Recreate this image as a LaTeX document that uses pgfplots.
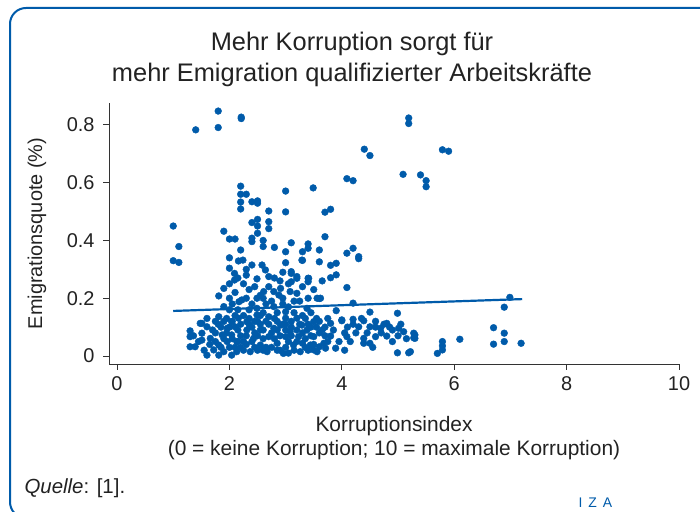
\documentclass[border=0pt]{standalone}
\usepackage{fontspec}
\setmainfont{Liberation Sans}
\usepackage{pgfplots}
\usepackage{pgfplotstable}
\pgfplotsset{compat=1.18}
\definecolor{izablue}{HTML}{005BAA}
\definecolor{axgray}{HTML}{333333}
\definecolor{txt}{HTML}{222222}

\pgfplotstableread{
x y
1.40 0.783
1.80 0.791
1.80 0.848
2.21 0.827
2.21 0.822
5.19 0.824
5.19 0.805
4.40 0.716
4.50 0.694
5.79 0.714
5.90 0.709
4.09 0.614
4.20 0.607
5.09 0.629
5.40 0.627
5.50 0.607
5.50 0.586
3.00 0.571
3.49 0.582
2.20 0.588
2.20 0.560
2.30 0.560
2.20 0.533
2.20 0.509
2.40 0.534
2.50 0.537
2.50 0.529
2.70 0.502
3.00 0.499
3.70 0.498
3.80 0.508
1.00 0.450
1.90 0.432
2.00 0.405
2.10 0.405
2.40 0.462
2.50 0.473
2.50 0.450
2.50 0.425
2.70 0.465
2.70 0.441
2.40 0.408
2.40 0.396
2.60 0.400
2.60 0.379
2.80 0.376
3.10 0.392
3.00 0.361
2.20 0.367
3.30 0.361
3.40 0.388
3.40 0.373
3.60 0.367
3.70 0.413
4.09 0.356
4.20 0.373
4.30 0.344
4.30 0.337
3.00 0.323
3.30 0.331
3.60 0.326
3.80 0.314
3.90 0.321
3.10 0.286
3.20 0.275
3.40 0.269
3.10 0.257
3.40 0.257
3.80 0.271
3.90 0.281
4.09 0.237
3.60 0.199
4.20 0.183
4.50 0.152
4.99 0.148
3.90 0.157
1.10 0.379
1.00 0.330
1.10 0.324
2.00 0.340
2.16 0.329
2.00 0.304
2.09 0.286
2.09 0.263
1.90 0.234
1.81 0.208
1.90 0.171
2.17 0.188
1.81 0.136
2.04 0.119
1.51 0.113
1.60 0.101
1.30 0.087
1.36 0.070
1.51 0.079
1.51 0.055
1.66 0.061
1.30 0.032
1.39 0.032
1.60 0.003
1.81 0.003
1.81 0.038
1.87 0.073
1.96 0.050
1.96 0.096
2.04 0.073
2.13 0.050
2.13 0.015
2.04 0.003
1.90 0.015
1.72 0.021
2.10 0.101
2.16 0.131
1.48 0.113
1.30 0.067
2.24 0.332
2.40 0.315
2.58 0.315
2.64 0.298
2.30 0.280
2.49 0.267
2.70 0.275
3.29 0.332
3.10 0.292
3.20 0.269
3.41 0.269
2.61 0.223
2.79 0.223
2.91 0.234
2.88 0.211
3.08 0.223
3.20 0.217
2.22 0.194
2.49 0.200
3.56 0.200
2.49 0.165
3.00 0.153
2.79 0.171
3.38 0.165
2.49 0.142
2.70 0.136
3.00 0.131
3.20 0.131
2.31 0.119
2.91 0.107
3.29 0.107
3.50 0.119
2.31 0.090
2.55 0.090
2.79 0.096
3.08 0.084
3.38 0.090
2.43 0.061
2.70 0.067
3.00 0.067
3.23 0.067
3.50 0.067
2.25 0.050
2.55 0.038
2.85 0.044
3.14 0.038
3.44 0.038
2.37 0.015
2.67 0.015
2.96 0.009
3.26 0.015
3.56 0.015
3.62 0.200
4.00 0.125
4.20 0.127
4.39 0.122
4.80 0.113
3.80 0.113
4.30 0.101
4.50 0.101
4.69 0.096
4.90 0.090
5.01 0.096
5.10 0.084
5.30 0.073
5.30 0.061
3.80 0.069
4.09 0.067
4.39 0.061
4.60 0.067
4.80 0.069
4.39 0.044
4.90 0.050
4.50 0.044
3.68 0.044
3.89 0.027
3.71 0.027
4.99 0.011
5.19 0.011
5.28 0.079
5.28 0.063
5.70 0.009
5.79 0.021
5.79 0.050
5.79 0.035
6.10 0.058
5.22 0.015
6.99 0.203
6.89 0.169
6.70 0.098
6.89 0.079
6.89 0.050
6.70 0.041
7.19 0.044
4.00 0.122
3.60 0.032
3.50 0.021
3.30 0.044
1.70 0.090
1.75 0.120
1.85 0.100
1.95 0.130
2.00 0.160
2.05 0.180
2.15 0.160
2.25 0.140
2.35 0.160
2.40 0.180
2.45 0.120
2.55 0.110
2.60 0.150
2.65 0.180
2.75 0.190
2.85 0.150
2.95 0.180
3.05 0.170
3.15 0.150
3.25 0.190
3.35 0.130
3.45 0.150
3.55 0.100
3.60 0.080
3.70 0.100
2.20 0.070
2.30 0.040
2.45 0.080
2.60 0.060
2.75 0.080
2.90 0.070
3.05 0.050
3.20 0.090
3.35 0.060
3.45 0.100
2.15 0.090
2.35 0.110
2.65 0.120
2.85 0.120
3.10 0.120
1.75 0.050
1.85 0.030
2.00 0.030
2.10 0.030
2.25 0.020
2.50 0.020
2.75 0.030
3.00 0.030
3.15 0.020
3.40 0.020
2.55 0.210
2.70 0.240
2.90 0.260
3.05 0.250
2.35 0.230
2.25 0.250
2.45 0.240
3.30 0.240
3.50 0.230
3.65 0.260
1.60 0.130
1.65 0.040
1.45 0.050
1.55 0.020
1.90 0.060
2.05 0.120
3.60 0.120
3.75 0.130
3.70 0.070
3.85 0.090
4.10 0.100
4.25 0.080
4.15 0.050
4.45 0.080
4.60 0.120
4.70 0.080
4.85 0.100
5.00 0.070
5.15 0.060
4.55 0.030
3.95 0.050
4.05 0.020
1.75 0.080
1.80 0.110
1.90 0.120
1.95 0.080
2.00 0.100
2.05 0.060
2.10 0.140
2.20 0.110
2.20 0.030
2.30 0.070
2.35 0.130
2.40 0.050
2.40 0.100
2.50 0.070
2.50 0.120
2.55 0.140
2.60 0.090
2.65 0.030
2.70 0.110
2.80 0.060
2.80 0.130
2.85 0.090
2.90 0.020
2.95 0.110
3.00 0.090
3.00 0.110
3.10 0.070
3.10 0.100
3.20 0.050
3.25 0.110
3.30 0.080
3.30 0.140
3.40 0.110
3.45 0.070
3.50 0.040
3.55 0.130
3.65 0.090
3.75 0.050
2.45 0.030
2.60 0.020
2.85 0.020
3.05 0.010
3.35 0.030
2.15 0.050
2.00 0.200
2.10 0.220
2.30 0.200
2.60 0.200
2.95 0.200
3.15 0.190
3.40 0.200
2.80 0.270
2.30 0.300
2.15 0.270
2.95 0.290
2.00 0.250
4.20 0.110
4.35 0.130
4.60 0.100
4.75 0.110
5.05 0.110
4.05 0.080
}\pts

\begin{document}
\begin{tikzpicture}[x=1bp,y=1bp]
\useasboundingbox (0,0) rectangle (700,512);
\draw[izablue, line width=2bp, rounded corners=16bp] (712,504) -- (10,504) -- (10,-6) -- (40,-6);
\node[align=center, text=txt, font=\fontsize{25.5}{31}\selectfont] at (352,453) {Mehr Korruption sorgt für\\mehr Emigration qualifizierter Arbeitskräfte};
\begin{axis}[
  at={(109bp,148bp)}, anchor=south west,
  scale only axis, width=570bp, height=261bp,
  xmin=-0.143, xmax=10, ymin=-0.0277, ymax=0.876,
  axis lines*=left,
  axis line style={-, axgray, line width=0.9bp},
  tick style={axgray, line width=0.9bp},
  tick align=outside,
  major tick length=6bp,
  xtick={0,2,4,6,8,10},
  ytick={0,0.2,0.4,0.6,0.8},
  yticklabels={0,0.2,0.4,0.6,0.8},
  /pgf/number format/assume math mode=true,
  ticklabel style={font=\fontsize{20}{22}\selectfont, text=txt},
  xticklabel style={yshift=-3bp},
  yticklabel style={xshift=-5bp},
  xlabel={Korruptionsindex\\(0 = keine Korruption; 10 = maximale Korruption)},
  xlabel style={at={(axis description cs:0.5,-0.188)}, anchor=north, align=center, text=txt, font=\fontsize{21}{24}\selectfont},
  ylabel={Emigrationsquote (\%)},
  ylabel style={at={(axis description cs:-0.1263,0.5)}, anchor=center, text=txt, font=\fontsize{20}{22}\selectfont},
  clip=false,
]
\addplot[only marks, mark=*, mark size=3.4bp, mark options={fill=izablue, draw=izablue}] table[x=x,y=y] {\pts};
\addplot[izablue, line width=2.2bp] coordinates {(1.0,0.156) (7.21,0.197)};
\end{axis}
\node[anchor=west, text=txt, font=\fontsize{20.5}{22}\selectfont] at (21,24) {\textit{Quelle}: [1].};
\node[anchor=west, font=\fontsize{14}{15}\selectfont, text=izablue] at (575,9) {I\hspace{6bp}Z\hspace{6bp}A};
\end{tikzpicture}
\end{document}
